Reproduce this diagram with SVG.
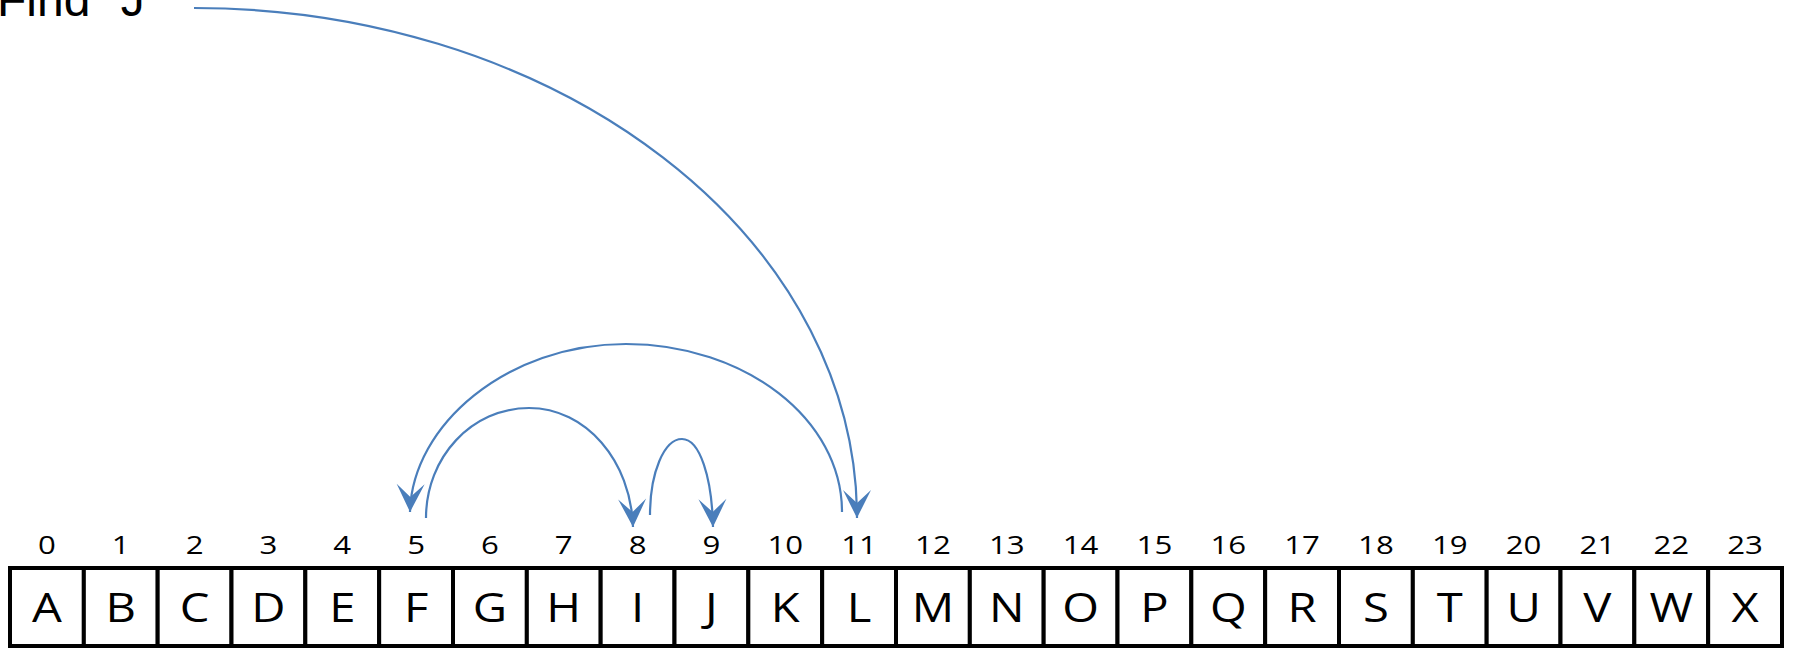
<svg xmlns="http://www.w3.org/2000/svg" width="1793" height="648" viewBox="0 0 1793 648">
<defs>
<style>
.cell rect{fill:#fff;stroke:#000;stroke-width:4}
.cell .letter{font-family:"Open Sans","Liberation Sans",sans-serif;font-size:40px;fill:#000;text-anchor:middle}
.cell .idx{font-family:"Open Sans","Liberation Sans",sans-serif;font-size:26px;fill:#000;text-anchor:middle}
.conn path{fill:none;stroke:#4A7EBB;stroke-width:2.2;marker-end:url(#ah)}
.title{font-family:"Liberation Sans",Arial,sans-serif;font-size:48px;fill:#000}
</style>
<marker id="ah" markerUnits="userSpaceOnUse" viewBox="-29 -15 30 30" refX="0" refY="0" markerWidth="30" markerHeight="30" orient="auto">
<path d="M0,0 L-28,-14 L-15,0 L-28,14 Z" fill="#4A7EBB"/>
</marker>
</defs>
<rect x="0" y="0" width="1793" height="648" fill="#fff"/>
<text class="title" x="-3" y="16">Find "J"</text>
<g id="cells">
<g id="cell-0" class="cell"><rect x="10" y="568" width="73.83" height="78"/><text class="idx" transform="translate(46.9,554) scale(1.2,1)">0</text><text class="letter" transform="translate(46.9,622) scale(1.18,1)">A</text></g>
<g id="cell-1" class="cell"><rect x="83.83" y="568" width="73.83" height="78"/><text class="idx" transform="translate(120.75,554) scale(1.2,1)">1</text><text class="letter" transform="translate(120.75,622) scale(1.18,1)">B</text></g>
<g id="cell-2" class="cell"><rect x="157.67" y="568" width="73.83" height="78"/><text class="idx" transform="translate(194.58,554) scale(1.2,1)">2</text><text class="letter" transform="translate(194.58,622) scale(1.18,1)">C</text></g>
<g id="cell-3" class="cell"><rect x="231.5" y="568" width="73.83" height="78"/><text class="idx" transform="translate(268.42,554) scale(1.2,1)">3</text><text class="letter" transform="translate(268.42,622) scale(1.18,1)">D</text></g>
<g id="cell-4" class="cell"><rect x="305.33" y="568" width="73.83" height="78"/><text class="idx" transform="translate(342.25,554) scale(1.2,1)">4</text><text class="letter" transform="translate(342.25,622) scale(1.18,1)">E</text></g>
<g id="cell-5" class="cell"><rect x="379.17" y="568" width="73.83" height="78"/><text class="idx" transform="translate(416.08,554) scale(1.2,1)">5</text><text class="letter" transform="translate(416.08,622) scale(1.18,1)">F</text></g>
<g id="cell-6" class="cell"><rect x="453" y="568" width="73.83" height="78"/><text class="idx" transform="translate(489.92,554) scale(1.2,1)">6</text><text class="letter" transform="translate(489.92,622) scale(1.18,1)">G</text></g>
<g id="cell-7" class="cell"><rect x="526.83" y="568" width="73.83" height="78"/><text class="idx" transform="translate(563.75,554) scale(1.2,1)">7</text><text class="letter" transform="translate(563.75,622) scale(1.18,1)">H</text></g>
<g id="cell-8" class="cell"><rect x="600.67" y="568" width="73.83" height="78"/><text class="idx" transform="translate(637.58,554) scale(1.2,1)">8</text><text class="letter" transform="translate(637.58,622) scale(1.18,1)">I</text></g>
<g id="cell-9" class="cell"><rect x="674.5" y="568" width="73.83" height="78"/><text class="idx" transform="translate(711.42,554) scale(1.2,1)">9</text><text class="letter" transform="translate(711.42,622) scale(1.18,1)">J</text></g>
<g id="cell-10" class="cell"><rect x="748.33" y="568" width="73.83" height="78"/><text class="idx" transform="translate(785.25,554) scale(1.2,1)">10</text><text class="letter" transform="translate(785.25,622) scale(1.18,1)">K</text></g>
<g id="cell-11" class="cell"><rect x="822.17" y="568" width="73.83" height="78"/><text class="idx" transform="translate(859.08,554) scale(1.2,1)">11</text><text class="letter" transform="translate(859.08,622) scale(1.18,1)">L</text></g>
<g id="cell-12" class="cell"><rect x="896" y="568" width="73.83" height="78"/><text class="idx" transform="translate(932.92,554) scale(1.2,1)">12</text><text class="letter" transform="translate(932.92,622) scale(1.18,1)">M</text></g>
<g id="cell-13" class="cell"><rect x="969.83" y="568" width="73.83" height="78"/><text class="idx" transform="translate(1006.75,554) scale(1.2,1)">13</text><text class="letter" transform="translate(1006.75,622) scale(1.18,1)">N</text></g>
<g id="cell-14" class="cell"><rect x="1043.67" y="568" width="73.83" height="78"/><text class="idx" transform="translate(1080.58,554) scale(1.2,1)">14</text><text class="letter" transform="translate(1080.58,622) scale(1.18,1)">O</text></g>
<g id="cell-15" class="cell"><rect x="1117.5" y="568" width="73.83" height="78"/><text class="idx" transform="translate(1154.42,554) scale(1.2,1)">15</text><text class="letter" transform="translate(1154.42,622) scale(1.18,1)">P</text></g>
<g id="cell-16" class="cell"><rect x="1191.33" y="568" width="73.83" height="78"/><text class="idx" transform="translate(1228.25,554) scale(1.2,1)">16</text><text class="letter" transform="translate(1228.25,622) scale(1.18,1)">Q</text></g>
<g id="cell-17" class="cell"><rect x="1265.17" y="568" width="73.83" height="78"/><text class="idx" transform="translate(1302.08,554) scale(1.2,1)">17</text><text class="letter" transform="translate(1302.08,622) scale(1.18,1)">R</text></g>
<g id="cell-18" class="cell"><rect x="1339" y="568" width="73.83" height="78"/><text class="idx" transform="translate(1375.92,554) scale(1.2,1)">18</text><text class="letter" transform="translate(1375.92,622) scale(1.18,1)">S</text></g>
<g id="cell-19" class="cell"><rect x="1412.83" y="568" width="73.83" height="78"/><text class="idx" transform="translate(1449.75,554) scale(1.2,1)">19</text><text class="letter" transform="translate(1449.75,622) scale(1.18,1)">T</text></g>
<g id="cell-20" class="cell"><rect x="1486.67" y="568" width="73.83" height="78"/><text class="idx" transform="translate(1523.58,554) scale(1.2,1)">20</text><text class="letter" transform="translate(1523.58,622) scale(1.18,1)">U</text></g>
<g id="cell-21" class="cell"><rect x="1560.5" y="568" width="73.83" height="78"/><text class="idx" transform="translate(1597.42,554) scale(1.2,1)">21</text><text class="letter" transform="translate(1597.42,622) scale(1.18,1)">V</text></g>
<g id="cell-22" class="cell"><rect x="1634.33" y="568" width="73.83" height="78"/><text class="idx" transform="translate(1671.25,554) scale(1.2,1)">22</text><text class="letter" transform="translate(1671.25,622) scale(1.18,1)">W</text></g>
<g id="cell-23" class="cell"><rect x="1708.17" y="568" width="73.83" height="78"/><text class="idx" transform="translate(1745.08,554) scale(1.2,1)">23</text><text class="letter" transform="translate(1745.08,622) scale(1.18,1)">X</text></g>
</g>
<g id="connectors" class="conn">
<path id="c-find-11" d="M194,8 A663,510 0 0 1 857,518"/>
<path id="c-11-5" d="M842,512 C842,419 745,344 626,344 C507,344 412,425 410,512"/>
<path id="c-5-8" d="M426,518 C426,457 472,408 529,408 C586,408 631,461 633,527"/>
<path id="c-8-9" d="M650,515 C650,473 664,439 682,439 C700,439 712,478 713,527"/>
</g>
</svg>
